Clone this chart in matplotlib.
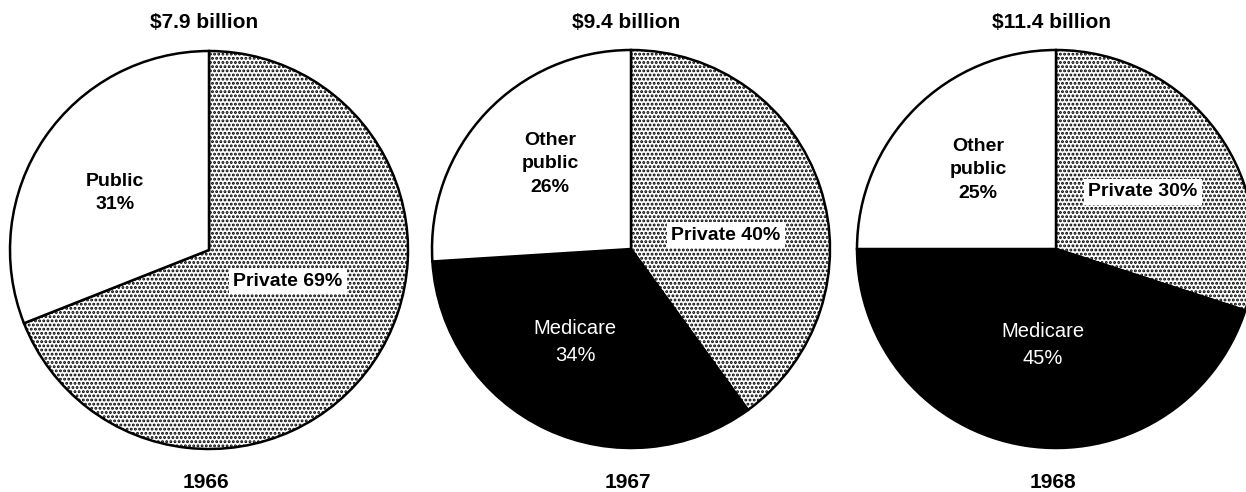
import numpy as np
import matplotlib
matplotlib.use("Agg")
import matplotlib.pyplot as plt

plt.rcParams['font.family'] = ['Liberation Sans', 'DejaVu Sans']
plt.rcParams['hatch.linewidth'] = 1.4
plt.rcParams['hatch.color'] = 'black'

# data
years = ['1966', '1967', '1968']
totals = ['$7.9 billion', '$9.4 billion', '$11.4 billion']
shares_1966 = [69, 31]
labels_1966 = ['Private', 'Public']
shares_1967 = [40, 34, 26]
shares_1968 = [30, 45, 25]
labels_later = ['Private', 'Medicare', 'Other public']

H = 492
W = 1246

fig = plt.figure(figsize=(W / 100, H / 100), dpi=100)
ax = fig.add_axes([0, 0, 1, 1])

lw = 1.8
centers = [(209, 250), (631, 249), (1056, 249)]
radius = 199

styles = {
    'Private': dict(facecolor='white', hatch='....'),
    'Public': dict(facecolor='white'),
    'Other public': dict(facecolor='white'),
    'Medicare': dict(facecolor='black'),
}

all_shares = [shares_1966, shares_1967, shares_1968]
all_labels = [labels_1966, labels_later, labels_later]

for (cx, cy), shares, labs in zip(centers, all_shares, all_labels):
    wedges, _ = ax.pie(shares, center=(cx, H - cy), radius=radius,
                       startangle=90, counterclock=False, frame=True,
                       wedgeprops=dict(edgecolor='black', linewidth=lw))
    for w, lab in zip(wedges, labs):
        w.set_facecolor(styles[lab]['facecolor'])
        if 'hatch' in styles[lab]:
            w.set_hatch(styles[lab]['hatch'])

# titles and years
for (cx, cy), tot, yr in zip(centers, totals, years):
    ax.text(cx - 5, H - 23, tot, ha='center', va='center', fontsize=15, fontweight='bold')
    ax.text(cx - 3, H - 482, yr, ha='center', va='center', fontsize=15, fontweight='bold')

# slice labels
fs = 14
ls = 1.5
box = dict(facecolor='white', edgecolor='none', pad=3)
ax.text(115, H - 193, 'Public\n31%', ha='center', va='center', fontsize=fs,
        fontweight='bold', linespacing=ls)
ax.text(288, H - 281, 'Private 69%', ha='center', va='center', fontsize=fs,
        fontweight='bold', bbox=box)

ax.text(550, H - 164, 'Other\npublic\n26%', ha='center', va='center', fontsize=fs,
        fontweight='bold', linespacing=ls)
ax.text(726, H - 235, 'Private 40%', ha='center', va='center', fontsize=fs,
        fontweight='bold', bbox=box)
ax.text(575, H - 342, 'Medicare\n34%', ha='center', va='center', fontsize=14.5,
        color='white', linespacing=ls)

ax.text(978, H - 170, 'Other\npublic\n25%', ha='center', va='center', fontsize=fs,
        fontweight='bold', linespacing=ls)
ax.text(1143, H - 192, 'Private 30%', ha='center', va='center', fontsize=fs,
        fontweight='bold', bbox=box)
ax.text(1043, H - 345, 'Medicare\n45%', ha='center', va='center', fontsize=14.5,
        color='white', linespacing=ls)

ax.set_xlim(0, W)
ax.set_ylim(0, H)
ax.set_aspect('equal')
ax.set_axis_off()

fig.savefig('out.png', dpi=100)
